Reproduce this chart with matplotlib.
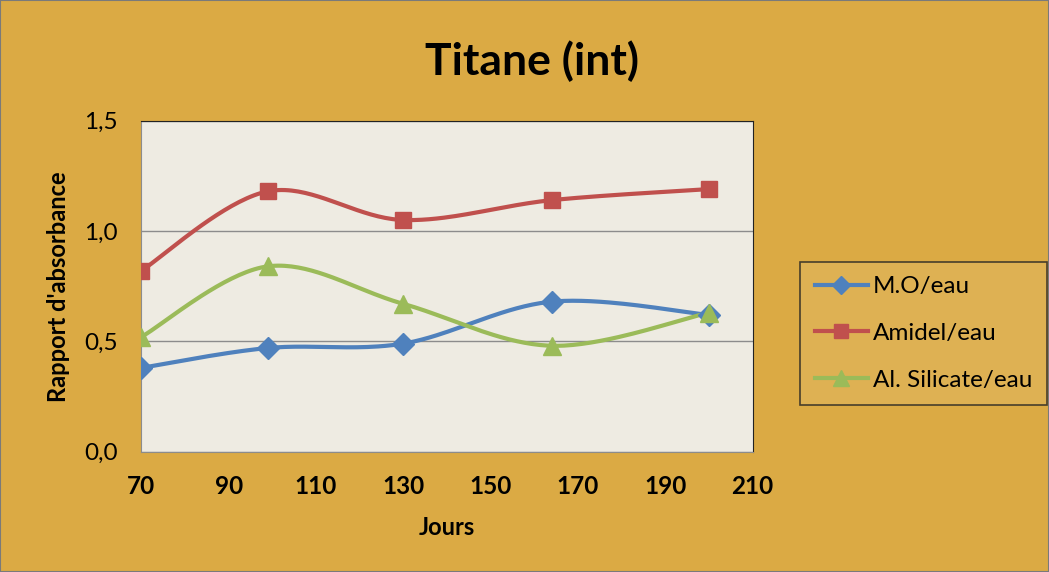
import numpy as np
import matplotlib
matplotlib.use('Agg')
import matplotlib.pyplot as plt
from matplotlib.patches import Rectangle

plt.rcParams['font.family'] = ['Lato', 'DejaVu Sans']

# jours de mesure et rapports d'absorbance
jours = [70, 99, 130, 164, 200]
mo_eau = [0.38, 0.47, 0.49, 0.68, 0.62]
amidel_eau = [0.82, 1.18, 1.05, 1.14, 1.19]
silicate_eau = [0.52, 0.84, 0.67, 0.48, 0.63]

x_ticks = [70, 90, 110, 130, 150, 170, 190, 210]
y_ticks = [0.0, 0.5, 1.0, 1.5]
y_labels = ['0,0', '0,5', '1,0', '1,5']


def lissage(x, y, n=40):
    # courbe lissée type Bezier (Catmull-Rom) entre les points
    x = np.asarray(x, float)
    y = np.asarray(y, float)
    pts = np.column_stack([x, y])
    out = [pts[0]]
    for i in range(len(pts) - 1):
        p0 = pts[i - 1] if i > 0 else pts[i]
        p1 = pts[i]
        p2 = pts[i + 1]
        p3 = pts[i + 2] if i + 2 < len(pts) else pts[i + 1]
        c1 = p1 + (p2 - p0) / 6.0
        c2 = p2 - (p3 - p1) / 6.0
        t = np.linspace(0, 1, n)[1:, None]
        seg = ((1 - t) ** 3) * p1 + 3 * ((1 - t) ** 2) * t * c1 \
            + 3 * (1 - t) * t ** 2 * c2 + t ** 3 * p2
        out.extend(seg)
    out = np.array(out)
    return out[:, 0], out[:, 1]


fig = plt.figure(figsize=(10.49, 5.72), dpi=100)
fig.patch.set_facecolor('#DBAA44')
ax = fig.add_axes([0.1347, 0.2103, 0.5828, 0.5787])
ax.set_facecolor('#EEEBE2')

series = [
    (mo_eau, 'M.O/eau', '#4F81BD', 'D', 11),
    (amidel_eau, 'Amidel/eau', '#C0504D', 's', 12),
    (silicate_eau, 'Al. Silicate/eau', '#9BBB59', '^', 13),
]
for vals, nom, couleur, mk, ms in series:
    xs, ys = lissage(jours, vals)
    ax.plot(xs, ys, color=couleur, lw=3, solid_capstyle='round', zorder=3)
    ax.plot(jours, vals, ls='none', marker=mk, ms=ms, color=couleur, zorder=4)
    ax.plot([], [], color=couleur, lw=3, marker=mk, ms=ms * 0.85, label=nom)

ax.set_xlim(70, 210)
ax.set_ylim(0, 1.5)
ax.set_xticks(x_ticks)
ax.set_yticks(y_ticks)
ax.set_yticklabels(y_labels)
ax.tick_params(length=0, labelsize=17.5, pad=17)
for lab in ax.get_xticklabels():
    lab.set_fontweight('bold')
ax.yaxis.grid(True, color='#8C8C8C', lw=1)
ax.set_axisbelow(True)
ax.spines['left'].set_color('#8C8C8C')
ax.spines['bottom'].set_color('#8C8C8C')
ax.spines['top'].set_color('#222222')
ax.spines['right'].set_color('#222222')

ax.set_xlabel('Jours', fontsize=17, fontweight='bold', labelpad=13)
ax.set_ylabel("Rapport d'absorbance", fontsize=17, fontweight='bold', labelpad=10)
fig.text(0.507, 0.893, 'Titane (int)', fontsize=32, fontweight='bold',
         ha='center', va='center')

leg = fig.legend(loc='center', bbox_to_anchor=(0.8804, 0.417), fontsize=17.5,
                 frameon=True, fancybox=False, handlelength=2.2,
                 labelspacing=1.05, borderpad=0.6, handletextpad=0.2)
leg.get_frame().set_facecolor('#E0B457')
leg.get_frame().set_edgecolor('#222222')
leg.get_frame().set_linewidth(1.2)

fig.patches.append(Rectangle((0, 0), 1, 1, transform=fig.transFigure,
                             fill=False, ec='#7A7A7A', lw=1.5))

fig.savefig('out.png', dpi=100, facecolor=fig.get_facecolor())
